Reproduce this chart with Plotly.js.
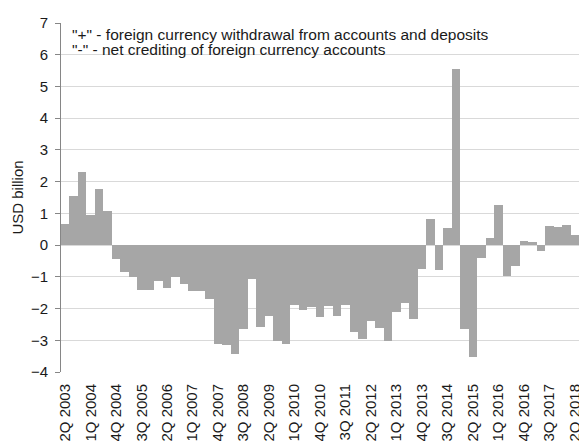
<!DOCTYPE html>
<html>
<head>
<meta charset="utf-8">
<script src="https://cdn.plot.ly/plotly-3.0.1.min.js"></script>
<style>
html,body{margin:0;padding:0;background:#fff;}
#chart{width:579px;height:441px;}
</style>
</head>
<body>
<div id="chart"></div>
<script>
var quarters = [
  "2Q 2003","3Q 2003","4Q 2003",
  "1Q 2004","2Q 2004","3Q 2004","4Q 2004",
  "1Q 2005","2Q 2005","3Q 2005","4Q 2005",
  "1Q 2006","2Q 2006","3Q 2006","4Q 2006",
  "1Q 2007","2Q 2007","3Q 2007","4Q 2007",
  "1Q 2008","2Q 2008","3Q 2008","4Q 2008",
  "1Q 2009","2Q 2009","3Q 2009","4Q 2009",
  "1Q 2010","2Q 2010","3Q 2010","4Q 2010",
  "1Q 2011","2Q 2011","3Q 2011","4Q 2011",
  "1Q 2012","2Q 2012","3Q 2012","4Q 2012",
  "1Q 2013","2Q 2013","3Q 2013","4Q 2013",
  "1Q 2014","2Q 2014","3Q 2014","4Q 2014",
  "1Q 2015","2Q 2015","3Q 2015","4Q 2015",
  "1Q 2016","2Q 2016","3Q 2016","4Q 2016",
  "1Q 2017","2Q 2017","3Q 2017","4Q 2017",
  "1Q 2018","2Q 2018"
];

var values = [
  0.66, 1.55, 2.30,
  0.94, 1.76, 1.08, -0.45,
  -0.86, -1.00, -1.42, -1.40,
  -1.13, -1.34, -1.02, -1.23,
  -1.46, -1.46, -1.70, -3.12,
  -3.15, -3.43, -2.66, -1.06,
  -2.57, -2.22, -3.03, -3.11,
  -1.90, -2.05, -1.94, -2.28,
  -1.91, -2.24, -1.90, -2.75,
  -2.96, -2.38, -2.62, -3.02,
  -2.11, -1.81, -2.33, -0.76,
  0.81, -0.80, 0.54, 5.55,
  -2.64, -3.54, -0.40, 0.23,
  1.25, -0.97, -0.65, 0.13,
  0.10, -0.18, 0.60, 0.58,
  0.62, 0.32
];

var tickLabels = [
  "2Q 2003","1Q 2004","4Q 2004","3Q 2005","2Q 2006","1Q 2007","4Q 2007",
  "3Q 2008","2Q 2009","1Q 2010","4Q 2010","3Q 2011","2Q 2012","1Q 2013",
  "4Q 2013","3Q 2014","2Q 2015","1Q 2016","4Q 2016","3Q 2017","2Q 2018"
];

var noteLines = [
  '"+" - foreign currency withdrawal from accounts and deposits',
  '"-" - net crediting of foreign currency accounts'
];

var yRange = [-4, 7];
var xRange = [-0.5, quarters.length - 0.5];
var FONT = 'Liberation Sans, Arial, sans-serif';
var AXC = '#868686';
var TXT = '#1a1a1a';

var trace = {
  type: 'bar',
  x: quarters,
  y: values,
  marker: {color: '#A6A6A6', line: {width: 0}},
  hoverinfo: 'x+y'
};

var layout = {
  width: 579,
  height: 441,
  margin: {l: 61, r: 0, t: 23, b: 69, pad: 0},
  paper_bgcolor: '#ffffff',
  plot_bgcolor: '#ffffff',
  showlegend: false,
  bargap: 0,
  font: {family: FONT, size: 15, color: TXT},
  xaxis: {
    type: 'category',
    categoryorder: 'array',
    categoryarray: quarters,
    range: xRange,
    tickmode: 'array',
    tickvals: tickLabels,
    ticktext: tickLabels,
    tickangle: -90,
    ticks: '',
    showgrid: false,
    showline: false,
    zeroline: false,
    ticklabelstandoff: 8,
    tickfont: {family: FONT, size: 15, color: TXT}
  },
  xaxis2: {
    overlaying: 'x',
    anchor: 'free',
    position: (0 - yRange[0]) / (yRange[1] - yRange[0]),
    side: 'bottom',
    type: 'linear',
    range: xRange,
    tickmode: 'linear',
    tick0: -0.5,
    dtick: 1,
    ticks: 'outside',
    ticklen: 4,
    tickwidth: 1,
    tickcolor: AXC,
    showline: true,
    linecolor: AXC,
    linewidth: 1,
    showgrid: false,
    zeroline: false,
    showticklabels: false
  },
  yaxis: {
    range: yRange,
    tickmode: 'linear',
    tick0: 0,
    dtick: 1,
    ticks: 'outside',
    ticklen: 5,
    tickcolor: AXC,
    showline: true,
    linecolor: AXC,
    linewidth: 1,
    showgrid: true,
    gridcolor: '#D9D9D9',
    gridwidth: 1,
    zeroline: false,
    ticklabelstandoff: 4,
    tickfont: {family: FONT, size: 15, color: TXT},
    title: {text: 'USD billion', font: {family: FONT, size: 15, color: TXT}, standoff: 3}
  },
  annotations: [
    {
      xref: 'paper', yref: 'paper', x: 0.018, y: 0.966,
      xanchor: 'left', yanchor: 'middle', align: 'left', showarrow: false,
      text: noteLines[0], font: {family: FONT, size: 15.5, color: TXT}
    },
    {
      xref: 'paper', yref: 'paper', x: 0.018, y: 0.924,
      xanchor: 'left', yanchor: 'middle', align: 'left', showarrow: false,
      text: noteLines[1], font: {family: FONT, size: 15.5, color: TXT}
    }
  ]
};

Plotly.newPlot('chart', [trace], layout, {displayModeBar: false, staticPlot: true});
</script>
</body>
</html>
